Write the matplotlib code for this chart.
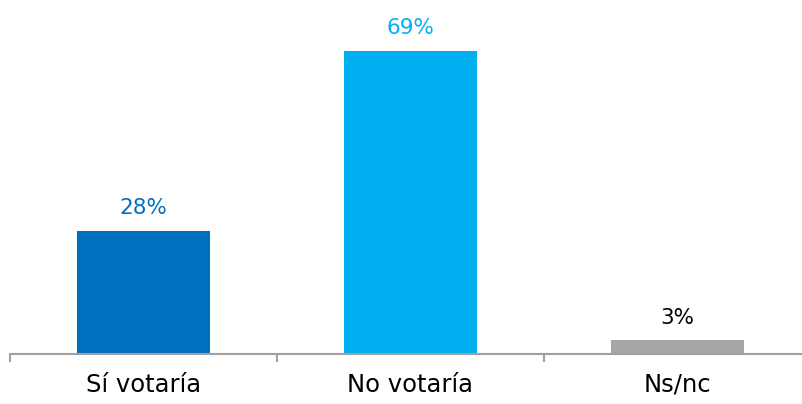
import matplotlib
matplotlib.use("Agg")
from matplotlib import pyplot as plt

categories = ["Sí votaría", "No votaría", "Ns/nc"]
values = [28, 69, 3]
labels = ["28%", "69%", "3%"]
colors = ["#0070C0", "#00B0F0", "#A6A6A6"]
label_colors = ["#0070C0", "#00B0F0", "#000000"]

plt.rcParams['font.family'] = ['DejaVu Sans']

fig = plt.figure(figsize=(8.03, 4.04), dpi=100)
ax = fig.add_axes([10 / 803, 50.5 / 404, 801 / 803, 351 / 404])

x = list(range(len(categories)))
ax.bar(x, values, width=0.5, color=colors)

for i, v in enumerate(values):
    ax.annotate(labels[i], (x[i], v), xytext=(0, 9), textcoords="offset points",
                ha="center", va="bottom", fontsize=15.5, color=label_colors[i])

ax.set_xlim(-0.5, 2.5)
ax.set_ylim(0, 80)

for s in ["top", "right", "left"]:
    ax.spines[s].set_visible(False)
ax.spines["bottom"].set_color("#A0A0A0")
ax.spines["bottom"].set_linewidth(1.5)
ax.set_yticks([])

# category boundaries as ticks
ax.set_xticks([-0.5, 0.5, 1.5, 2.5], minor=False)
ax.set_xticklabels([])
ax.tick_params(axis="x", which="major", length=6, width=1.5, color="#A0A0A0")
ax.set_xticks(x, minor=True)
ax.set_xticklabels(categories, minor=True, fontsize=17.5)
ax.tick_params(axis="x", which="minor", length=0, pad=14)

fig.savefig("out.png", dpi=100)
